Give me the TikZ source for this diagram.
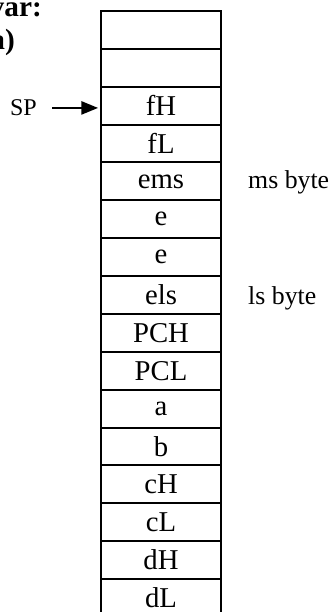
\documentclass[tikz,border=0pt]{standalone}
\usepackage{fontspec}
\setmainfont{Liberation Serif}
\usetikzlibrary{positioning,arrows.meta}
\tikzset{
  cell/.style={draw, line width=0.06cm, minimum width=3.6cm, minimum height=1.136cm,
    inner sep=0pt, outer sep=0pt, font=\fontsize{24.5}{28}\selectfont},
  sidelabel/.style={inner sep=0pt, font=\fontsize{22}{26}\selectfont},
  splabel/.style={inner sep=0pt, font=\fontsize{20.5}{24}\selectfont},
  headlabel/.style={inner sep=0pt, font=\fontsize{25}{30}\selectfont\bfseries},
  pointer/.style={line width=0.045cm, -{Triangle[length=0.5cm,width=0.4cm]}, shorten >=0.09cm}
}
\begin{document}
\begin{tikzpicture}
    \useasboundingbox (0,0) rectangle (10.05,18.36);
    \clip (0,0) rectangle (10.05,18.36);

    % Heading (cut off at the left)
    \node [headlabel, anchor=base east] (head1) at (1.26,17.85) {var:};
    \node [headlabel, anchor=base east] (head2) at (0.45,16.86) {a)};

    % Stack cells, top to bottom
    \node [cell] (r0) at (4.83,17.462) {};
    \node [cell, below=0pt of r0] (r1) {};
    \node [cell, below=0pt of r1] (fH) {fH};
    \node [cell, below=0pt of fH] (fL) {fL};
    \node [cell, below=0pt of fL] (ems) {ems};
    \node [cell, below=0pt of ems] (e1) {e};
    \node [cell, below=0pt of e1] (e2) {e};
    \node [cell, below=0pt of e2] (els) {els};
    \node [cell, below=0pt of els] (PCH) {PCH};
    \node [cell, below=0pt of PCH] (PCL) {PCL};
    \node [cell, below=0pt of PCL] (a) {a};
    \node [cell, below=0pt of a] (b) {b};
    \node [cell, below=0pt of b] (cH) {cH};
    \node [cell, below=0pt of cH] (cL) {cL};
    \node [cell, below=0pt of cL] (dH) {dH};
    \node [cell, below=0pt of dH] (dL) {dL};

    % Byte labels
    \node [sidelabel, base right=0.81cm of ems] (msb) {ms byte};
    \node [sidelabel, base right=0.81cm of els] (lsb) {ls byte};

    % Stack pointer
    \node [splabel, base left=1.92cm of fH] (SP) {SP};
    \draw [pointer] ([xshift=0.45cm]SP.east) -- (SP.east -| fH.west);
\end{tikzpicture}
\end{document}
